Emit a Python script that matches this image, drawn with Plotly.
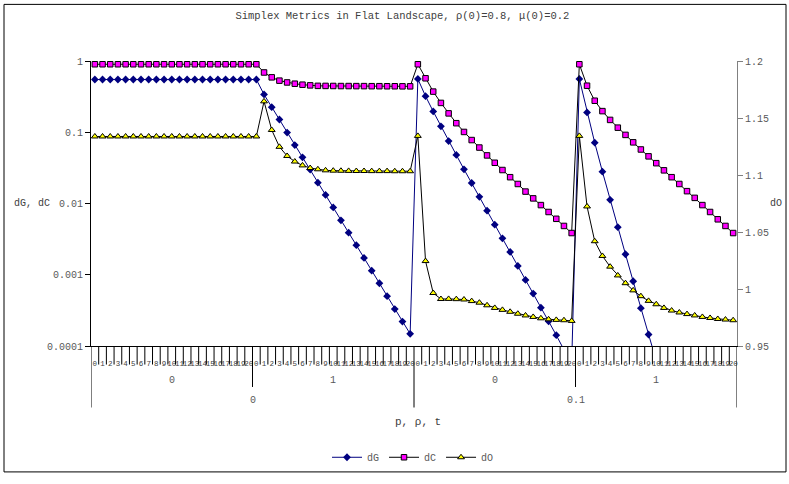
import plotly.graph_objects as go

# --- category structure: step 0..20 inside p / rho / t groups ---
steps = list(range(21))
mid_groups = ["0", "1", "0", "1"]
top_groups = ["0", "0.1"]

# --- dG (left, log axis) ---
dG_g0 = [0.55] * 21
dG_g1 = [0.55, 0.339, 0.225, 0.151, 0.099, 0.066, 0.0445, 0.030, 0.0196, 0.0132,
         0.0088, 0.0058, 0.0039, 0.0026, 0.00172, 0.00114, 0.00076, 0.00050,
         0.00033, 0.00022, 0.000148]
dG_g2 = [0.56, 0.321, 0.196, 0.121, 0.0753, 0.048, 0.0302, 0.0194, 0.0124,
         0.00794, 0.00505, 0.00325, 0.00209, 0.00133, 0.000846, 0.000544,
         0.000345, 0.000222, 0.000142, 0.000088, 0.000055]
dG_g3 = [0.56, 0.190, 0.0713, 0.028, 0.01125, 0.00465, 0.00194, 0.00081,
         0.000339, 0.000145, 0.000062, None, None, None, None, None, None,
         None, None, None, None]

# --- dC (left, log axis) ---
dC_g0 = [0.90] * 21
dC_g1 = [0.90, 0.69, 0.59, 0.53, 0.50, 0.48, 0.465, 0.455, 0.448, 0.447, 0.446,
         0.445, 0.445, 0.444, 0.444, 0.443, 0.443, 0.442, 0.442, 0.441, 0.441]
dC_g2 = [0.90, 0.572, 0.372, 0.258, 0.184, 0.134, 0.101, 0.0777, 0.061, 0.0473,
         0.0373, 0.0295, 0.0234, 0.0188, 0.0147, 0.0118, 0.0095, 0.0076,
         0.0061, 0.00484, 0.00385]
dC_g3 = [0.90, 0.45, 0.277, 0.198, 0.149, 0.116, 0.0918, 0.0722, 0.0573, 0.0459,
         0.0368, 0.0292, 0.0234, 0.0188, 0.0149, 0.0120, 0.0095, 0.0076,
         0.0060, 0.00484, 0.00385]

# --- dO (right, linear axis) ---
dO_g0 = [1.1338] * 21
dO_g1 = [1.1338, 1.1646, 1.1395, 1.1247, 1.1167, 1.1118, 1.1084, 1.1061, 1.105,
         1.1041, 1.1038, 1.1037, 1.1036, 1.1035, 1.1035, 1.1034, 1.1034,
         1.1034, 1.1033, 1.1033, 1.1033]
dO_g2 = [1.1343, 1.0245, 0.9965, 0.9912, 0.9913, 0.9911, 0.9908, 0.9894, 0.988,
         0.9857, 0.9834, 0.9817, 0.98, 0.9783, 0.9768, 0.9755, 0.9743, 0.9734,
         0.9729, 0.9726, 0.972]
dO_g3 = [1.1343, 1.0724, 1.0419, 1.029, 1.0196, 1.0119, 1.0051, 0.9988, 0.9937,
         0.9896, 0.9866, 0.9834, 0.9811, 0.9794, 0.978, 0.9768, 0.9755, 0.9746,
         0.9737, 0.9732, 0.9726]

left_ticks = [1, 0.1, 0.01, 0.001, 0.0001]
left_ticktext = ["1", "0.1", "0.01", "0.001", "0.0001"]

dG = dG_g0 + dG_g1 + dG_g2 + dG_g3
dC = dC_g0 + dC_g1 + dC_g2 + dC_g3
dO = dO_g0 + dO_g1 + dO_g2 + dO_g3

n_steps = len(steps)
n_cat = n_steps * len(mid_groups)
x = list(range(n_cat))
step_text = [str(s) for s in steps] * len(mid_groups)

FONT = "Liberation Mono, Courier New, monospace"
GREY = "#595959"
DARK = "#404040"

fig = go.Figure()
fig.add_trace(go.Scatter(
    x=x, y=dG, name="dG", mode="lines+markers",
    line=dict(color="#000080", width=1),
    marker=dict(symbol="diamond", size=6, color="#000080"),
))
fig.add_trace(go.Scatter(
    x=x, y=dC, name="dC", mode="lines+markers",
    line=dict(color="#000000", width=1),
    marker=dict(symbol="square", size=5.5, color="#FF00FF",
                line=dict(color="#000000", width=1)),
))
fig.add_trace(go.Scatter(
    x=x, y=dO, name="dO", mode="lines+markers", yaxis="y2",
    line=dict(color="#000000", width=1),
    marker=dict(symbol="triangle-up", size=6, color="#FFFF00",
                line=dict(color="#000000", width=1)),
))

# plot area in pixels: x 91..737, y 61..353
L, R, T, B = 91, 737, 61, 353
W, H = R - L, B - T


def py(p):
    """pixel row -> paper y"""
    return (B - p) / H


def px(p):
    """pixel column -> paper x"""
    return (p - L) / W


shapes = []
# category separators below the axis (three depths for three levels)
for k in range(n_cat + 1):
    if k % (2 * n_steps) == 0:
        depth = 416
    elif k % n_steps == 0:
        depth = 395
    else:
        depth = 372
    shapes.append(dict(type="line", xref="x", yref="paper",
                       x0=k - 0.5, x1=k - 0.5, y0=0, y1=py(depth),
                       line=dict(color="#000000", width=1)))
# outer chart border
shapes.append(dict(type="rect", xref="paper", yref="paper",
                   x0=px(4), x1=px(786), y0=py(482), y1=py(3),
                   line=dict(color="#000000", width=1), fillcolor="rgba(0,0,0,0)",
                   layer="below"))


def label(xv, yv, text, size, color, xref="paper"):
    return dict(x=xv, y=yv, xref=xref, yref="paper", text=text,
                showarrow=False, xanchor="center", yanchor="middle",
                font=dict(family=FONT, size=size, color=color))


annotations = []
for i, g in enumerate(mid_groups):
    annotations.append(label(i * n_steps + (n_steps - 1) / 2, py(388), g, 10,
                             GREY, xref="x"))
for i, g in enumerate(top_groups):
    annotations.append(label(i * 2 * n_steps + (2 * n_steps - 1) / 2, py(409),
                             g, 10, GREY, xref="x"))
annotations.append(label(px(418), py(431), "p, ρ, t", 11, DARK))
annotations.append(label(px(32), py(207), "dG, dC", 10, DARK))
annotations.append(label(px(776), py(207), "dO", 10, DARK))

fig.update_layout(
    width=789, height=484,
    margin=dict(l=L, r=789 - R, t=T, b=484 - B),
    paper_bgcolor="white", plot_bgcolor="white",
    title=dict(text="Simplex Metrics in Flat Landscape, ρ(0)=0.8, μ(0)=0.2",
               x=0.51, xanchor="center", y=1 - 15 / 484, yanchor="middle",
               font=dict(family=FONT, size=10.5, color=DARK)),
    xaxis=dict(range=[-0.5, n_cat - 0.5], tickmode="array", tickvals=x,
               ticktext=step_text, tickangle=0, ticks="", showgrid=False,
               zeroline=False, showline=True, linecolor="#000000", linewidth=1,
               tickfont=dict(family=FONT, size=7.5, color=DARK),
               ticklabelstandoff=10),
    yaxis=dict(type="log", range=[-4, 0], tickmode="array", tickvals=left_ticks,
               ticktext=left_ticktext, ticks="outside", ticklen=5,
               tickcolor="#000000", showgrid=False, zeroline=False,
               showline=True, linecolor="#000000", linewidth=1,
               tickfont=dict(family=FONT, size=10, color=GREY)),
    yaxis2=dict(overlaying="y", side="right", range=[0.95, 1.2], dtick=0.05,
                tick0=0.95, ticks="outside", ticklen=5, tickcolor="#808080",
                showgrid=False, zeroline=False, showline=True,
                linecolor="#808080", linewidth=1,
                tickfont=dict(family=FONT, size=10, color=GREY)),
    legend=dict(orientation="h", x=px(413), xanchor="center", y=py(467),
                yanchor="middle", font=dict(family=FONT, size=10, color=GREY),
                bgcolor="rgba(0,0,0,0)", itemwidth=30, tracegroupgap=0),
    shapes=shapes,
    annotations=annotations,
    showlegend=True,
)

fig.write_html("out.html")
